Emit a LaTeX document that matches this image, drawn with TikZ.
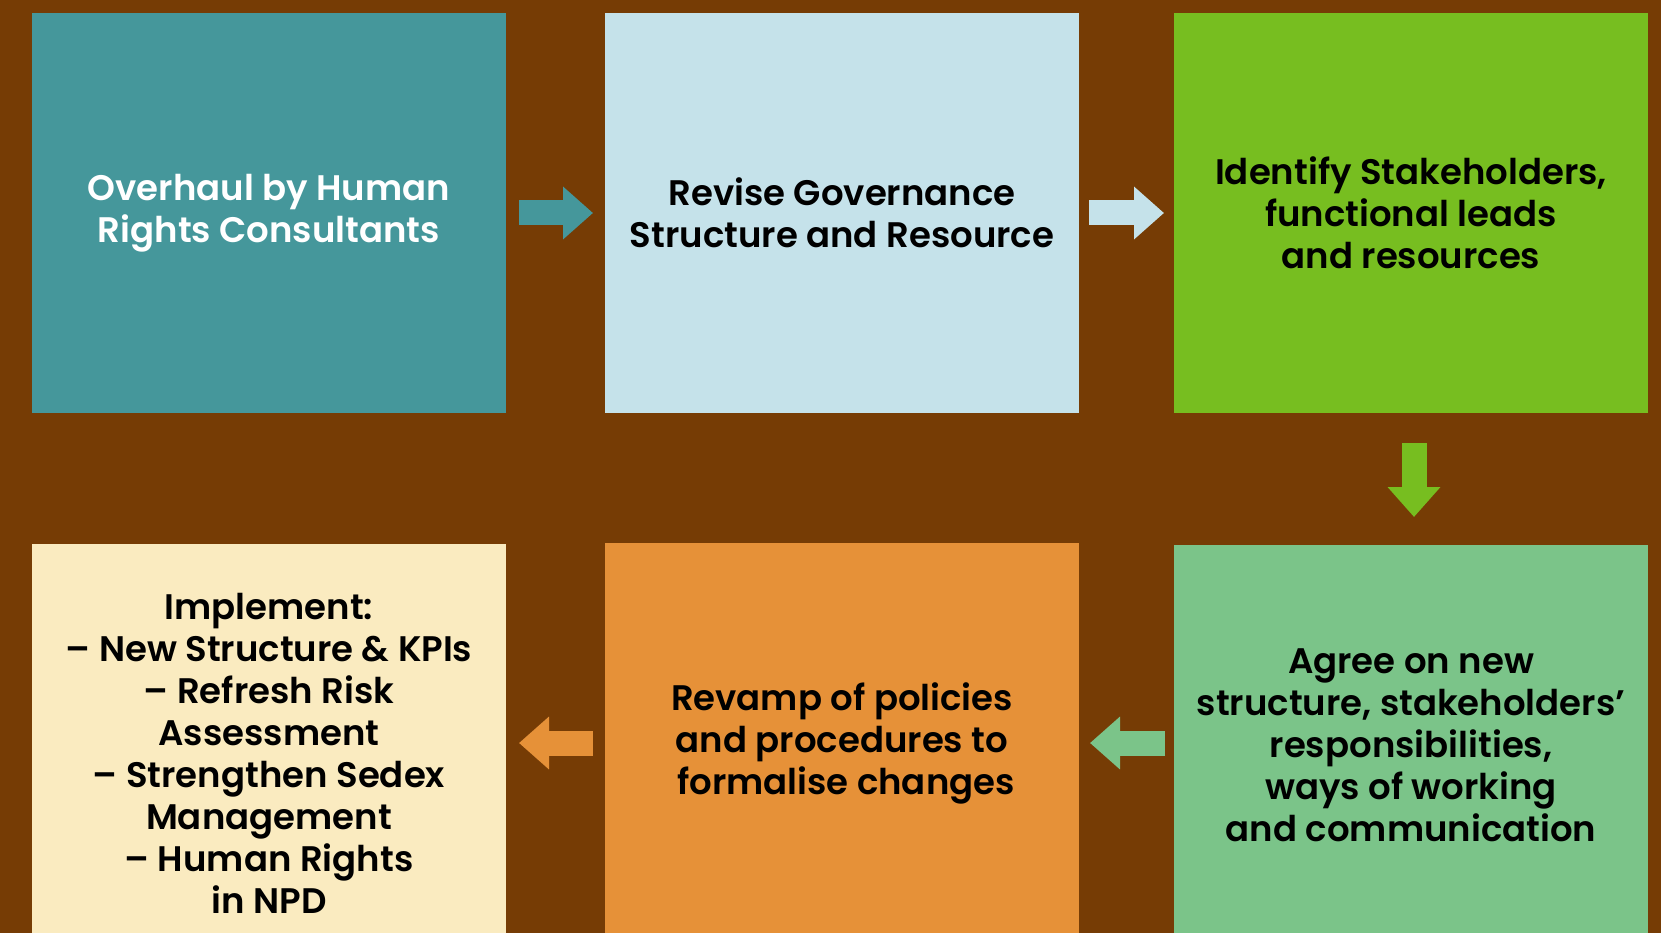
\documentclass[tikz,border=0pt]{standalone}
\usepackage{fontspec}
\setmainfont{Poppins}[BoldFont={Poppins SemiBold}]
\usetikzlibrary{arrows.meta}
\definecolor{bg}{HTML}{763C05}
\definecolor{teal}{HTML}{45979B}
\definecolor{paleblue}{HTML}{C5E2EA}
\definecolor{lime}{HTML}{77BE20}
\definecolor{softgreen}{HTML}{7BC489}
\definecolor{amber}{HTML}{E69138}
\definecolor{cream}{HTML}{FAEBC0}

\begin{document}
\begin{tikzpicture}[x=1pt,y=-1pt,
  box/.style={minimum width=474pt, minimum height=400pt, inner sep=0pt, outer sep=0pt,
    align=center, font=\fontsize{35.5}{42}\selectfont\bfseries},
  flow/.style={line width=25pt, -{Triangle[length=30pt,width=51pt]}}]
\useasboundingbox (0,0) rectangle (1661,933);
\clip (0,0) rectangle (1661,933);
\fill[bg] (0,0) rectangle (1661,933);
\node[box, fill=teal, text=white] (overhaul) at (269,213) {Overhaul by Human\\Rights Consultants};
\node[box, fill=paleblue] (revise) at (842,213) {Revise Governance\\Structure and Resource};
\node[box, fill=lime] (identify) at (1411,213) {Identify Stakeholders,\\functional leads\\and resources};
\node[box, fill=softgreen] (agree) at (1411,745) {Agree on new\\structure, stakeholders’\\responsibilities,\\ways of working\\and communication};
\node[box, fill=amber] (revamp) at (842,743) {Revamp of policies\\and procedures to\\\hspace*{8pt}formalise changes};
\node[box, fill=cream, minimum height=418pt] (implement) at (269,753) {Implement:\\– New Structure \& KPIs\\– Refresh Risk\\Assessment\\– Strengthen Sedex\\Management\\– Human Rights\\in NPD};
\draw[flow, teal, shorten <=13pt, shorten >=12pt] (overhaul) -- (revise);
\draw[flow, paleblue, shorten <=10pt, shorten >=10pt] (revise) -- (identify);
\draw[flow, lime, shorten <=30pt, shorten >=28pt] ([xshift=3pt]identify.south) -- ([xshift=3pt]agree.north);
\draw[flow, softgreen, shorten <=9pt, shorten >=11pt] (agree.west |- revamp) -- (revamp);
\draw[flow, amber, shorten <=12pt, shorten >=13pt] (revamp) -- (implement.east |- revamp);
\end{tikzpicture}
\end{document}
